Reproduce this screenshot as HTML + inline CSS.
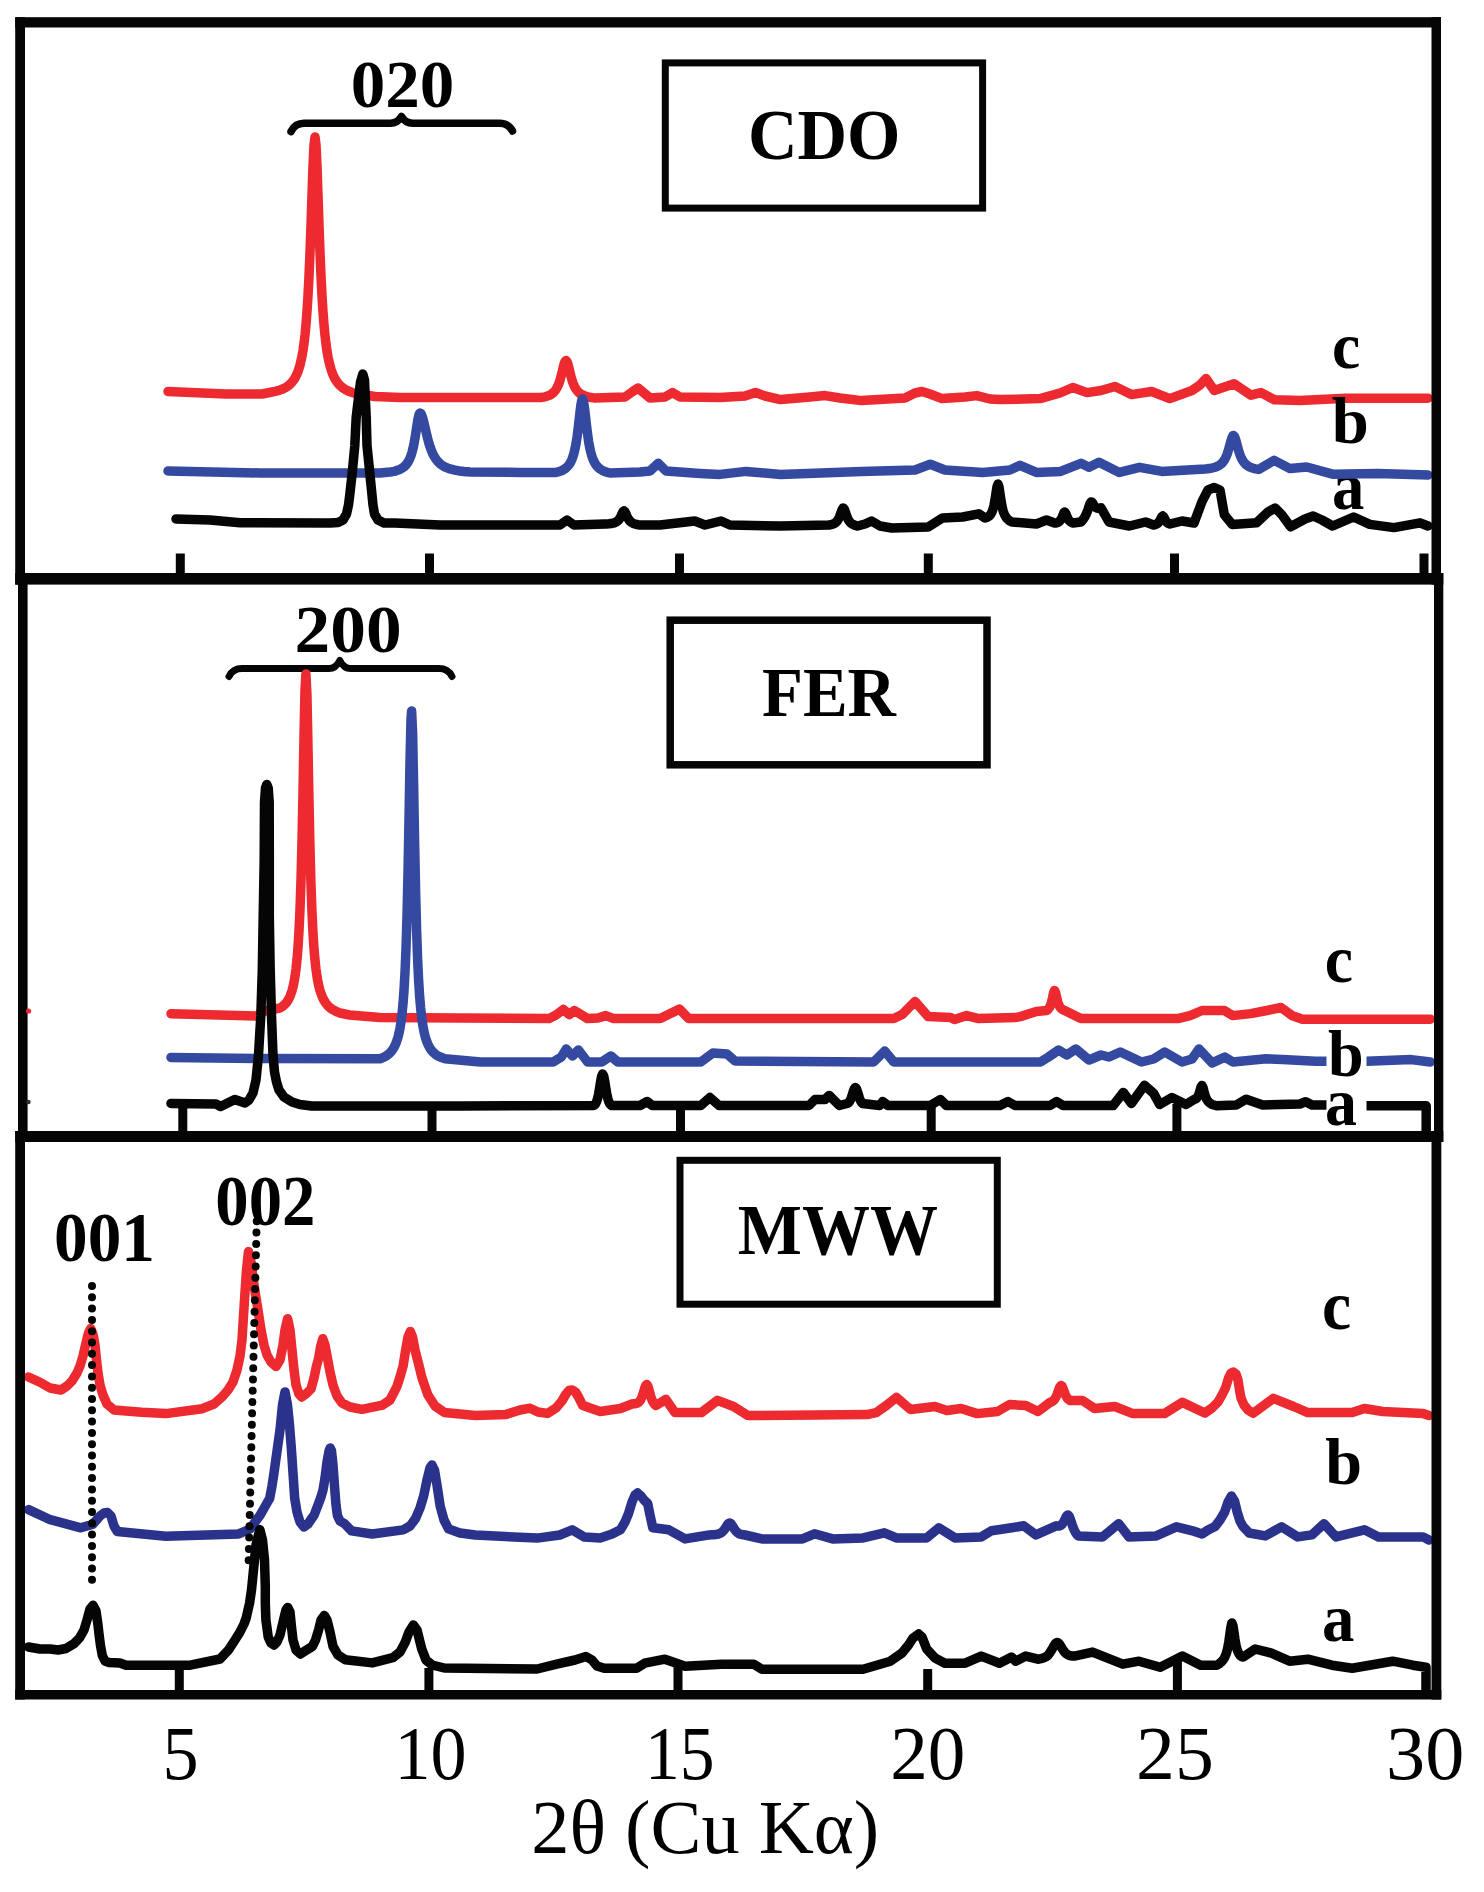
<!DOCTYPE html>
<html><head><meta charset="utf-8"><style>
html,body{margin:0;padding:0;background:#fff;}
svg{display:block;}
text{font-family:"Liberation Serif",serif;}
</style></head><body>
<svg width="1484" height="1892" viewBox="0 0 1484 1892"><rect width="1484" height="1892" fill="#fff"/><text transform="translate(1332.07,368.34) scale(0.9605,1)" font-size="66.25" font-weight="bold">c</text><text transform="translate(1332.10,508.63) scale(0.9622,1)" font-size="67.29" font-weight="bold">a</text><path d="M291.0,131.5 Q295.0,123.2 304.0,123.2 L390.5,123.2 Q397.5,123.2 401.5,116.5 Q405.5,123.2 412.5,123.2 L499.5,123.2 Q508.5,123.2 512.5,131.0" fill="none" stroke="#050505" stroke-width="7.5" stroke-linecap="round" stroke-linejoin="round"/><path d="M229.0,676.5 Q233.0,668.6 242.0,668.6 L328.8,668.6 Q335.8,668.6 339.8,660.5 Q343.8,668.6 350.8,668.6 L439.0,668.6 Q448.0,668.6 452.0,676.5" fill="none" stroke="#050505" stroke-width="7" stroke-linecap="round" stroke-linejoin="round"/><polyline points="168.0,391.5 226.0,394.0 262.0,394.0 272.0,392.0 272.0,392.0 274.0,391.6 276.0,391.2 278.0,390.7 280.0,390.0 282.0,389.3 284.0,388.4 286.0,387.3 288.0,386.0 290.0,384.3 292.0,382.2 294.0,379.6 296.0,376.1 298.0,371.5 300.0,365.1 302.0,356.3 303.0,350.5 304.0,343.5 305.0,335.0 306.0,324.5 307.0,311.5 308.0,295.6 309.0,276.0 310.0,252.4 311.0,224.9 312.0,195.0 313.0,166.4 314.0,145.0 315.0,137.0 316.0,145.1 317.0,166.5 318.0,195.1 319.0,225.0 320.0,252.6 321.0,276.3 322.0,295.9 323.0,311.9 324.0,324.9 325.0,335.4 326.0,344.0 327.0,351.1 328.0,356.9 329.0,361.8 331.0,369.3 333.0,374.8 335.0,378.9 337.0,382.0 339.0,384.5 341.0,386.4 343.0,388.0 345.0,389.3 347.0,390.4 349.0,391.3 351.0,392.0 353.0,392.7 355.0,393.3 357.0,393.8 358.0,394.0 375.0,396.5 400.0,397.5 460.0,397.5 541.0,397.6 541.0,397.6 543.0,397.2 545.0,396.8 547.0,396.2 549.0,395.4 551.0,394.4 553.0,392.9 554.0,392.0 555.0,390.8 556.0,389.4 557.0,387.7 558.0,385.7 559.0,383.2 560.0,380.2 561.0,376.6 562.0,372.6 563.0,368.4 564.0,364.4 565.0,361.6 566.0,360.5 567.0,361.6 568.0,364.4 569.0,368.3 570.0,372.5 571.0,376.5 572.0,380.0 573.0,383.0 574.0,385.4 575.0,387.5 576.0,389.2 577.0,390.5 578.0,391.7 579.0,392.6 580.0,393.5 582.0,394.7 584.0,395.6 586.0,396.3 588.0,396.9 590.0,397.3 592.0,397.6 594.0,397.9 595.0,398.0 625.0,397.0 632.0,392.0 638.0,388.0 644.0,393.0 650.0,398.0 665.0,397.0 672.5,392.6 680.0,397.0 720.0,397.6 745.0,396.0 755.4,392.6 765.0,396.0 780.6,399.6 810.0,397.0 825.0,395.6 840.0,398.0 861.5,400.6 905.0,398.0 915.0,393.0 922.0,391.5 930.0,394.0 942.0,398.6 965.0,397.0 976.7,395.6 990.0,399.0 1000.0,399.6 1040.0,398.6 1060.0,393.0 1072.8,387.5 1087.0,392.6 1101.0,390.5 1115.0,386.5 1131.4,394.6 1151.6,391.5 1169.8,398.6 1192.0,390.5 1200.0,385.0 1206.0,378.5 1214.3,390.5 1234.0,383.7 1251.0,395.2 1261.0,392.6 1274.4,399.8 1300.0,400.4 1345.6,398.2 1428.0,398.2" fill="none" stroke="#EC2A30" stroke-width="9.5" stroke-linejoin="round" stroke-linecap="round"/><polyline points="168.0,471.0 260.0,473.0 380.0,473.0 390.0,472.0 390.0,472.0 392.0,471.7 394.0,471.3 396.0,470.8 398.0,470.1 400.0,469.3 402.0,468.2 404.0,466.8 406.0,464.8 408.0,462.1 409.0,460.3 410.0,458.1 411.0,455.5 412.0,452.3 413.0,448.4 414.0,443.7 415.0,438.1 416.0,431.9 417.0,425.3 418.0,419.1 419.0,414.7 420.0,413.0 421.0,413.7 422.0,415.9 423.0,419.1 424.0,423.0 425.0,427.4 426.0,431.7 427.0,436.0 428.0,439.9 429.0,443.5 430.0,446.7 431.0,449.5 432.0,452.0 433.0,454.2 434.0,456.1 436.0,459.3 438.0,461.7 440.0,463.7 442.0,465.2 444.0,466.4 446.0,467.4 448.0,468.2 450.0,468.9 452.0,469.4 454.0,469.9 456.0,470.3 458.0,470.7 460.0,471.0 462.0,471.2 464.0,471.5 466.0,471.7 468.0,471.8 470.0,472.0 520.0,472.4 556.0,472.4 556.0,472.4 558.0,471.9 560.0,471.3 562.0,470.5 564.0,469.4 566.0,468.0 568.0,466.0 570.0,463.3 571.0,461.4 572.0,459.2 573.0,456.5 574.0,453.1 575.0,448.9 576.0,443.7 577.0,437.4 578.0,429.8 579.0,421.1 580.0,412.1 581.0,404.3 582.0,399.6 582.5,399.0 583.5,401.5 584.5,408.0 585.5,416.6 586.5,425.6 587.5,433.7 588.5,440.7 589.5,446.5 590.5,451.1 591.5,454.9 592.5,458.0 593.5,460.4 594.5,462.5 595.5,464.2 596.5,465.6 598.5,467.7 600.5,469.3 602.5,470.5 604.5,471.4 606.5,472.1 608.5,472.6 610.0,473.0 640.0,472.0 650.0,471.0 658.3,463.3 666.0,471.0 700.0,473.4 720.0,474.4 746.0,471.4 780.6,474.4 861.5,471.4 915.0,470.0 930.2,464.3 945.0,470.0 982.8,472.4 1010.0,470.0 1020.0,465.3 1036.4,472.4 1060.6,471.4 1080.9,463.3 1089.0,467.3 1099.0,462.3 1119.3,472.4 1139.5,467.3 1161.7,471.4 1205.0,469.0 1205.0,469.0 1207.0,468.8 1209.0,468.5 1211.0,468.2 1213.0,467.8 1215.0,467.2 1217.0,466.5 1219.0,465.5 1221.0,464.0 1222.0,463.1 1223.0,462.0 1224.0,460.6 1225.0,458.9 1226.0,456.9 1227.0,454.5 1228.0,451.5 1229.0,448.1 1230.0,444.4 1231.0,440.7 1232.0,437.6 1233.0,435.7 1233.5,435.5 1234.5,436.5 1235.5,439.1 1236.5,442.6 1237.5,446.5 1238.5,450.1 1239.5,453.4 1240.5,456.1 1241.5,458.4 1242.5,460.2 1243.5,461.8 1244.5,463.0 1245.5,464.1 1246.5,465.0 1247.5,465.7 1249.5,466.9 1251.5,467.7 1253.5,468.3 1255.5,468.8 1257.5,469.2 1258.7,469.4 1274.2,460.4 1290.0,468.6 1306.7,467.0 1332.6,474.2 1377.9,473.4 1428.0,475.0" fill="none" stroke="#344AA0" stroke-width="9.5" stroke-linejoin="round" stroke-linecap="round"/><polyline points="176.0,519.0 210.0,520.0 240.0,522.7 330.0,523.0 338.0,522.5 343.0,520.0 346.5,514.0 348.5,505.0 350.0,493.0 352.5,470.0 354.8,445.6 356.2,417.0 358.5,398.0 360.5,382.0 362.8,374.0 364.5,380.0 365.3,398.0 366.2,417.0 367.0,445.6 369.5,470.0 371.8,493.0 373.0,505.0 374.5,514.0 378.0,520.0 384.0,523.0 395.0,523.0 440.0,525.0 560.0,525.0 567.0,520.0 574.0,525.0 605.0,524.0 605.0,524.0 607.0,523.9 609.0,523.8 611.0,523.5 612.0,523.4 613.0,523.2 614.0,522.9 615.0,522.6 616.0,522.1 617.0,521.5 618.0,520.6 619.0,519.5 620.0,518.0 621.0,516.0 622.0,513.8 623.0,511.8 624.0,511.0 625.0,511.9 626.0,513.9 627.0,516.3 628.0,518.3 629.0,519.9 630.0,521.1 631.0,522.0 632.0,522.7 633.0,523.3 634.0,523.7 635.0,524.0 636.0,524.3 637.0,524.5 638.0,524.7 640.0,525.0 660.0,525.0 694.7,521.0 705.0,525.0 721.0,521.0 730.0,525.0 780.6,526.0 829.0,525.0 829.0,525.0 831.0,524.6 832.0,524.4 833.0,524.0 834.0,523.6 835.0,523.0 836.0,522.3 837.0,521.2 838.0,519.8 839.0,518.0 840.0,515.5 841.0,512.6 842.0,509.8 843.0,508.1 843.3,508.0 844.3,509.1 845.3,511.8 846.3,514.9 847.3,517.6 848.3,519.7 849.3,521.3 850.3,522.5 851.3,523.4 852.3,524.1 853.3,524.6 854.3,525.1 855.3,525.4 856.3,525.7 857.3,526.0 857.5,526.0 865.0,524.0 871.6,521.0 880.0,526.0 891.8,528.0 928.2,527.0 942.4,518.0 962.6,517.0 978.7,513.8 985.0,518.0 985.0,518.0 986.0,517.7 987.0,517.4 988.0,516.8 989.0,516.1 990.0,515.2 991.0,513.8 992.0,511.9 993.0,509.1 994.0,505.2 995.0,499.9 996.0,493.2 997.0,486.8 998.0,484.0 999.0,487.0 1000.0,493.7 1001.0,500.6 1002.0,506.2 1003.0,510.4 1004.0,513.4 1005.0,515.6 1006.0,517.2 1007.0,518.5 1008.0,519.5 1009.0,520.3 1010.0,521.0 1011.0,521.5 1012.0,522.0 1036.4,524.0 1046.5,520.0 1054.6,523.0 1056.0,523.0 1057.0,522.7 1058.0,522.3 1059.0,521.6 1060.0,520.7 1061.0,519.4 1062.0,517.5 1063.0,515.0 1064.0,512.6 1064.7,512.0 1065.7,513.2 1066.7,515.8 1067.7,518.2 1068.7,520.0 1069.7,521.1 1070.7,521.9 1071.7,522.5 1072.7,522.9 1073.0,523.0 1080.9,522.0 1080.9,522.0 1081.9,520.9 1082.9,519.7 1083.9,518.3 1084.9,516.7 1085.9,514.8 1086.9,512.5 1087.9,509.8 1088.9,506.7 1089.9,503.8 1090.9,502.1 1091.0,502.0 1092.0,502.2 1093.0,503.6 1094.0,505.3 1095.0,506.6 1096.0,507.6 1097.0,508.1 1098.0,508.3 1099.0,508.3 1100.0,508.1 1101.0,507.8 1109.0,522.0 1129.4,526.0 1145.5,522.0 1153.6,525.0 1154.0,525.0 1155.0,524.7 1156.0,524.3 1157.0,523.8 1158.0,523.0 1159.0,521.9 1160.0,520.4 1161.0,518.4 1162.0,516.5 1162.7,516.0 1163.7,516.9 1164.7,518.9 1165.7,520.8 1166.7,522.1 1167.7,523.0 1168.7,523.5 1169.7,523.9 1170.0,524.0 1182.0,521.0 1194.0,523.0 1202.0,501.7 1208.0,490.0 1214.3,487.5 1220.0,490.0 1224.3,514.7 1232.3,524.4 1256.6,522.8 1268.0,512.0 1275.2,508.0 1282.0,515.0 1290.6,526.8 1305.0,519.0 1313.2,516.0 1322.0,520.0 1332.6,526.0 1353.6,517.0 1369.8,524.4 1394.0,527.6 1420.0,522.8 1428.0,526.0" fill="none" stroke="#050505" stroke-width="9.5" stroke-linejoin="round" stroke-linecap="round"/><polyline points="171.0,1013.8 257.0,1016.0 262.0,1012.0 269.4,1010.0 280.0,1008.0 280.0,1008.0 282.0,1006.8 284.0,1005.2 286.0,1003.2 288.0,1000.3 290.0,996.4 292.0,990.7 293.0,986.9 294.0,982.2 295.0,976.4 296.0,969.1 297.0,959.6 298.0,947.3 299.0,931.0 300.0,909.3 301.0,880.1 302.0,841.4 303.0,792.3 304.0,737.2 305.0,690.5 305.9,674.0 306.9,694.1 307.9,742.3 308.9,796.9 309.9,844.7 310.9,882.2 311.9,910.4 312.9,931.5 313.9,947.3 314.9,959.3 315.9,968.6 316.9,975.9 317.9,981.7 318.9,986.4 319.9,990.2 321.9,996.1 323.9,1000.2 325.9,1003.3 327.9,1005.7 329.9,1007.6 331.9,1009.1 333.9,1010.3 335.9,1011.3 337.9,1012.2 339.9,1013.0 340.0,1013.0 349.6,1015.0 380.0,1017.4 460.0,1018.0 549.0,1018.6 556.0,1015.0 563.3,1009.5 569.4,1014.6 574.4,1010.5 587.6,1018.6 598.0,1018.0 605.8,1015.6 613.8,1018.6 660.3,1018.6 668.4,1014.6 679.5,1009.0 688.6,1018.6 893.8,1018.6 902.0,1014.6 915.0,1001.5 928.2,1016.6 950.4,1017.6 954.5,1019.6 966.6,1015.6 978.7,1018.6 1015.0,1017.6 1020.2,1016.6 1036.4,1011.5 1046.5,1010.5 1046.5,1010.5 1047.5,1009.8 1048.5,1008.8 1049.5,1007.4 1050.5,1005.3 1051.5,1002.2 1052.5,998.0 1053.5,993.2 1054.5,990.5 1054.6,990.5 1055.6,992.7 1056.6,997.2 1057.6,1001.4 1058.6,1004.4 1059.6,1006.5 1060.6,1007.9 1061.6,1008.9 1062.6,1009.6 1063.6,1010.1 1064.6,1010.5 1064.7,1010.5 1076.8,1016.6 1080.9,1018.6 1177.9,1018.6 1190.0,1015.6 1202.0,1010.5 1224.4,1010.5 1232.5,1015.6 1250.7,1013.6 1266.8,1010.5 1281.0,1007.5 1292.5,1015.8 1302.4,1019.2 1430.3,1019.2" fill="none" stroke="#EC2A30" stroke-width="9.5" stroke-linejoin="round" stroke-linecap="round"/><polyline points="171.0,1057.5 260.0,1058.5 380.0,1058.7 380.0,1058.7 382.0,1058.0 384.0,1057.1 386.0,1056.0 388.0,1054.6 390.0,1052.9 392.0,1050.6 394.0,1047.5 396.0,1043.2 398.0,1037.2 399.0,1033.1 400.0,1028.1 401.0,1021.9 402.0,1014.0 403.0,1003.8 404.0,990.4 405.0,972.6 406.0,948.7 407.0,916.4 408.0,873.4 409.0,819.6 410.0,761.9 411.0,719.2 411.6,711.0 412.6,732.7 413.6,784.4 414.6,842.0 415.6,891.7 416.6,930.1 417.6,958.8 418.6,980.0 419.6,995.8 420.6,1007.7 421.6,1016.9 422.6,1024.1 423.6,1029.8 424.6,1034.3 425.6,1038.1 427.6,1043.7 429.6,1047.6 431.6,1050.5 433.6,1052.7 435.6,1054.4 437.6,1055.7 439.6,1056.7 441.6,1057.6 443.6,1058.3 445.0,1058.7 480.4,1062.0 553.2,1062.0 561.3,1057.0 566.3,1049.0 572.4,1056.0 578.5,1050.0 587.6,1062.0 601.7,1062.0 610.8,1056.0 617.9,1062.0 700.8,1062.0 712.9,1053.0 727.0,1054.0 735.0,1061.0 873.6,1062.0 884.7,1051.0 893.8,1062.0 1040.4,1062.0 1048.5,1057.0 1058.6,1050.0 1066.7,1055.0 1075.8,1049.0 1089.0,1060.0 1101.0,1055.0 1109.0,1057.0 1120.3,1052.0 1141.5,1062.0 1153.6,1059.0 1164.7,1052.0 1182.0,1062.0 1192.0,1059.0 1199.0,1049.0 1212.2,1062.9 1224.8,1057.1 1233.0,1062.0 1266.0,1058.8 1282.5,1059.6 1315.6,1061.3 1326.0,1061.3" fill="none" stroke="#344AA0" stroke-width="9.5" stroke-linejoin="round" stroke-linecap="round"/><polyline points="1366.7,1061.3 1411.3,1059.6 1430.3,1062.0" fill="none" stroke="#344AA0" stroke-width="9.5" stroke-linejoin="round" stroke-linecap="round"/><polyline points="171.0,1103.5 216.0,1104.0 220.6,1106.5 234.8,1099.4 245.0,1103.0 249.0,1100.0 253.0,1093.0 256.0,1080.0 258.5,1055.0 260.8,1016.0 262.3,970.0 263.2,916.0 264.2,860.0 264.5,802.0 265.5,788.0 266.8,784.5 268.2,788.0 269.2,802.0 269.3,860.0 269.3,916.0 270.2,970.0 271.5,1016.0 273.0,1055.0 274.5,1072.0 276.5,1082.0 279.0,1090.0 284.0,1097.0 292.0,1102.0 300.0,1104.5 311.6,1106.0 460.0,1106.0 593.6,1105.5 593.6,1105.5 594.6,1104.9 595.6,1103.7 596.6,1101.7 597.6,1098.5 598.6,1093.9 599.6,1088.0 600.6,1081.7 601.6,1076.4 602.6,1074.0 602.7,1074.0 603.7,1076.0 604.7,1081.1 605.7,1087.4 606.7,1093.4 607.7,1098.1 608.7,1101.5 609.7,1103.6 610.7,1104.8 611.7,1105.5 611.8,1105.5 640.0,1105.5 647.2,1101.5 652.2,1105.5 700.8,1105.5 709.9,1097.5 719.0,1105.5 809.0,1105.5 815.0,1099.5 825.0,1099.5 829.2,1095.4 839.3,1105.5 847.3,1103.5 847.3,1103.5 848.3,1102.9 849.3,1101.9 850.3,1100.2 851.3,1097.8 852.3,1094.8 853.3,1091.5 854.3,1088.8 855.3,1087.5 855.4,1087.5 856.4,1088.6 857.4,1091.3 858.4,1094.7 859.4,1097.9 860.4,1100.5 861.4,1102.3 862.4,1103.4 862.5,1103.5 879.7,1105.5 882.7,1101.5 887.8,1105.5 930.2,1105.5 940.3,1099.5 946.4,1105.5 1000.0,1105.5 1008.0,1101.5 1015.0,1105.5 1050.0,1105.5 1056.6,1101.5 1063.0,1105.5 1113.2,1105.5 1123.3,1092.4 1131.4,1103.5 1144.5,1085.3 1153.6,1093.4 1159.7,1104.5 1171.8,1097.5 1186.0,1104.5 1194.0,1099.5 1194.0,1099.5 1195.0,1099.2 1196.0,1098.6 1197.0,1097.7 1198.0,1096.2 1199.0,1093.9 1200.0,1090.6 1201.0,1087.1 1202.0,1085.5 1203.0,1087.5 1204.0,1091.5 1205.0,1095.1 1206.0,1097.9 1207.0,1099.8 1208.0,1101.2 1209.0,1102.3 1210.0,1103.1 1211.0,1103.8 1212.0,1104.4 1212.2,1104.5 1216.5,1105.8 1236.3,1105.0 1246.2,1099.2 1262.7,1105.0 1300.0,1104.0 1305.7,1101.7 1312.0,1105.0 1326.0,1105.0" fill="none" stroke="#050505" stroke-width="9.5" stroke-linejoin="round" stroke-linecap="round"/><polyline points="1366.7,1105.8 1426.2,1105.8 1426.2,1131.0" fill="none" stroke="#050505" stroke-width="9.5" stroke-linejoin="round" stroke-linecap="round"/><polyline points="28.5,1377.0 39.5,1382.0 50.0,1388.0 61.0,1390.0 67.0,1386.0 72.0,1381.0 77.0,1373.0 80.0,1366.0 83.0,1356.0 86.0,1343.0 88.5,1333.0 90.7,1328.5 93.0,1334.0 95.0,1345.0 96.5,1360.0 98.0,1373.0 100.0,1385.0 103.0,1395.0 107.0,1404.0 114.0,1410.0 141.6,1412.3 165.9,1413.6 202.3,1408.7 214.0,1404.0 222.0,1397.0 228.0,1390.0 233.0,1382.0 237.0,1370.0 240.0,1356.0 242.0,1340.0 244.5,1300.0 246.5,1270.0 248.5,1251.6 251.0,1262.0 254.0,1285.0 258.0,1310.0 261.0,1330.0 264.0,1345.0 267.0,1355.0 271.0,1362.0 276.0,1366.5 280.0,1360.0 283.0,1345.0 285.0,1330.0 287.6,1318.7 290.0,1330.0 292.0,1350.0 294.0,1370.0 296.0,1385.0 299.0,1394.0 301.8,1397.0 306.0,1394.0 311.0,1389.0 314.0,1378.0 316.5,1366.0 318.7,1358.0 320.5,1347.0 322.8,1338.7 325.0,1345.0 327.8,1360.0 330.0,1372.0 333.0,1385.0 337.0,1396.0 342.0,1403.0 350.0,1407.0 361.9,1409.3 382.5,1405.2 390.0,1400.0 396.9,1386.6 400.0,1377.0 403.1,1366.0 406.0,1348.0 408.0,1337.0 410.3,1331.5 412.5,1337.0 415.0,1350.0 418.6,1364.0 422.0,1378.0 427.8,1394.8 435.0,1406.0 444.3,1412.4 475.3,1415.5 506.2,1414.4 520.0,1410.0 529.9,1408.2 538.0,1412.0 547.4,1413.4 556.0,1408.0 561.9,1401.0 566.0,1394.0 569.0,1390.5 572.2,1390.0 575.5,1392.0 579.0,1398.0 582.5,1405.2 590.0,1408.0 600.2,1411.5 620.4,1408.5 632.0,1404.0 632.0,1404.0 634.0,1403.8 635.0,1403.7 636.0,1403.5 637.0,1403.2 638.0,1402.7 639.0,1402.0 640.0,1400.8 641.0,1399.1 642.0,1396.9 643.0,1394.0 644.0,1390.6 645.0,1387.4 646.0,1385.0 646.7,1384.5 647.7,1385.8 648.7,1388.8 649.7,1392.5 650.7,1396.1 651.7,1399.2 652.7,1401.5 653.7,1403.3 654.7,1404.5 655.7,1405.3 656.0,1405.5 665.9,1399.4 675.0,1412.6 701.3,1412.6 717.5,1400.4 733.6,1406.5 747.8,1415.6 867.0,1414.6 876.2,1412.6 886.3,1405.5 896.4,1397.4 910.5,1409.5 934.8,1406.5 946.9,1410.5 961.0,1408.5 977.2,1413.6 997.5,1411.5 1009.6,1404.5 1025.8,1405.5 1037.9,1411.5 1050.0,1402.4 1050.0,1402.4 1051.0,1402.0 1052.0,1401.6 1053.0,1400.9 1054.0,1400.0 1055.0,1398.7 1056.0,1396.9 1057.0,1394.7 1058.0,1392.0 1059.0,1389.1 1060.0,1386.7 1061.0,1385.5 1061.1,1385.5 1062.1,1386.3 1063.1,1388.6 1064.1,1391.3 1065.1,1394.0 1066.1,1396.2 1067.1,1397.9 1068.1,1399.1 1069.1,1399.9 1070.1,1400.4 1070.2,1400.4 1082.4,1400.4 1094.5,1408.5 1114.7,1406.5 1132.9,1413.6 1164.3,1413.6 1182.4,1402.4 1204.8,1413.0 1212.0,1408.0 1218.0,1402.0 1222.0,1395.0 1225.5,1388.0 1228.5,1378.0 1231.0,1373.0 1233.3,1372.0 1236.0,1374.0 1238.0,1380.0 1239.5,1390.0 1241.0,1398.0 1244.0,1405.0 1248.0,1410.0 1253.2,1413.3 1273.4,1398.4 1293.6,1406.5 1307.8,1412.6 1352.2,1412.6 1364.4,1408.5 1382.6,1411.5 1423.0,1413.6 1429.0,1415.6" fill="none" stroke="#EC2A30" stroke-width="9.5" stroke-linejoin="round" stroke-linecap="round"/><polyline points="28.5,1509.6 49.2,1519.3 80.8,1527.8 92.9,1524.2 100.0,1516.0 104.0,1513.0 107.5,1512.5 111.0,1516.0 114.0,1526.0 117.3,1531.5 165.9,1536.3 238.8,1533.9 250.0,1529.0 255.0,1522.0 260.0,1515.4 264.2,1508.0 267.0,1503.0 269.7,1498.4 272.0,1486.0 274.0,1473.0 277.5,1447.7 280.0,1430.0 282.5,1405.0 285.0,1392.0 287.5,1405.0 289.5,1425.0 291.3,1447.7 293.0,1473.0 294.7,1498.4 297.0,1512.0 300.0,1522.0 304.0,1527.0 308.0,1524.0 312.0,1518.0 314.0,1515.4 318.0,1505.0 321.0,1497.0 323.0,1490.0 325.0,1478.0 327.0,1462.0 329.0,1451.0 330.2,1448.0 331.5,1451.0 333.0,1465.0 334.8,1490.0 336.0,1505.0 337.4,1515.4 340.0,1521.0 344.6,1523.8 351.5,1530.9 372.2,1534.0 403.1,1529.9 410.0,1526.0 415.5,1518.6 420.0,1508.0 423.7,1495.9 427.0,1480.0 430.0,1468.0 432.0,1465.0 434.5,1470.0 437.0,1485.0 440.2,1506.2 444.0,1520.0 448.5,1528.9 460.0,1533.0 475.3,1535.0 537.1,1538.1 559.8,1535.0 572.2,1529.9 584.5,1537.1 600.2,1537.9 612.0,1534.0 620.4,1529.8 625.0,1522.0 628.5,1513.6 632.0,1502.0 635.0,1495.0 637.6,1493.0 641.0,1496.0 644.0,1500.0 647.7,1503.5 650.0,1515.0 652.8,1527.8 668.9,1529.8 685.1,1538.9 709.4,1534.9 709.4,1534.9 711.4,1534.8 713.4,1534.7 715.4,1534.5 717.4,1534.2 718.4,1534.0 719.4,1533.6 720.4,1533.2 721.4,1532.6 722.4,1531.8 723.4,1530.7 724.4,1529.5 725.4,1528.0 726.4,1526.4 727.4,1524.8 728.4,1523.6 729.4,1523.0 729.6,1523.0 730.6,1523.4 731.6,1524.6 732.6,1526.1 733.6,1527.8 734.6,1529.4 735.6,1530.7 736.6,1531.8 737.6,1532.7 738.6,1533.4 739.6,1533.9 740.6,1534.2 741.6,1534.5 742.6,1534.7 743.6,1534.8 745.0,1535.0 761.9,1538.9 802.4,1538.9 814.5,1533.8 832.7,1538.9 863.0,1537.9 884.3,1532.8 896.4,1537.9 926.7,1537.9 938.8,1527.8 955.0,1537.9 981.3,1536.9 991.4,1530.8 1011.6,1527.8 1023.7,1525.8 1035.9,1534.9 1056.1,1525.8 1056.1,1525.8 1057.1,1526.0 1058.1,1526.1 1059.1,1526.0 1060.1,1525.7 1061.1,1525.1 1062.1,1524.2 1063.1,1522.8 1064.1,1521.0 1065.1,1519.0 1066.1,1516.9 1067.1,1515.4 1068.1,1515.0 1068.2,1515.0 1069.2,1516.2 1070.2,1518.7 1071.2,1521.7 1072.2,1524.8 1073.2,1527.6 1074.2,1530.0 1075.2,1531.9 1076.2,1533.5 1077.2,1534.8 1078.2,1535.8 1078.3,1535.9 1102.6,1536.9 1118.7,1523.7 1128.9,1536.9 1156.2,1535.9 1176.4,1526.8 1192.6,1530.8 1202.0,1534.0 1208.0,1530.0 1215.0,1526.5 1220.0,1520.0 1224.7,1512.0 1228.0,1502.0 1231.4,1496.0 1234.5,1501.0 1237.2,1512.0 1240.0,1521.0 1243.0,1526.5 1249.2,1533.0 1265.3,1535.9 1281.5,1526.8 1297.7,1536.9 1311.8,1534.9 1324.0,1523.7 1336.0,1536.9 1352.2,1532.8 1364.4,1529.8 1378.5,1536.9 1423.0,1536.9 1429.0,1540.0" fill="none" stroke="#2A328C" stroke-width="9.5" stroke-linejoin="round" stroke-linecap="round"/><polyline points="28.5,1647.0 40.0,1649.0 50.0,1649.0 58.0,1650.0 66.0,1648.5 74.0,1643.6 79.5,1638.0 84.0,1630.0 87.0,1620.0 90.0,1609.0 93.1,1605.3 96.0,1611.0 98.0,1625.0 99.0,1634.0 100.4,1645.0 102.3,1655.5 105.0,1661.0 109.0,1662.5 120.0,1663.0 126.0,1665.2 141.6,1665.2 190.2,1665.2 220.0,1659.0 228.5,1650.0 235.0,1640.0 240.0,1632.0 244.0,1624.0 246.2,1618.0 248.0,1610.0 249.6,1603.0 251.5,1590.0 253.5,1570.0 256.0,1545.0 259.8,1529.5 262.5,1540.0 264.5,1560.0 265.3,1586.0 265.3,1603.0 265.9,1620.0 268.2,1636.9 271.0,1643.0 274.1,1645.0 277.0,1642.0 280.0,1635.0 283.5,1620.0 286.0,1610.0 287.7,1607.5 290.0,1612.0 291.6,1628.0 293.0,1640.0 296.0,1650.0 300.4,1654.0 305.0,1651.0 312.4,1646.4 315.5,1640.0 318.6,1629.9 321.0,1620.0 324.3,1615.5 327.0,1620.0 330.0,1632.0 333.0,1646.4 338.0,1655.0 345.4,1659.8 372.2,1662.9 392.8,1657.7 400.0,1652.0 405.2,1642.3 409.0,1632.0 413.4,1625.0 417.0,1630.0 421.6,1648.5 426.0,1660.0 432.0,1665.0 444.3,1668.0 537.1,1669.0 557.7,1663.9 575.0,1660.0 586.0,1656.5 592.0,1660.0 597.0,1666.0 604.3,1668.3 636.6,1668.3 644.7,1663.2 664.9,1659.2 685.1,1666.2 721.5,1664.2 753.8,1664.2 761.9,1669.3 863.0,1669.3 890.3,1661.2 902.0,1653.0 908.5,1645.0 913.0,1638.0 918.6,1634.0 922.0,1637.0 926.7,1649.0 935.0,1658.0 944.9,1663.2 965.1,1663.2 981.3,1656.1 999.5,1663.2 1011.6,1657.1 1015.6,1661.2 1025.8,1656.1 1037.9,1659.2 1037.9,1659.2 1039.9,1658.9 1041.9,1658.4 1043.9,1657.8 1044.9,1657.3 1045.9,1656.8 1046.9,1656.1 1047.9,1655.2 1048.9,1654.1 1049.9,1652.7 1050.9,1651.2 1051.9,1649.5 1052.9,1647.7 1053.9,1645.9 1054.9,1644.3 1055.9,1643.1 1056.9,1642.5 1057.1,1642.5 1058.1,1642.8 1059.1,1643.7 1060.1,1645.1 1061.1,1646.7 1062.1,1648.4 1063.1,1650.0 1064.1,1651.4 1065.1,1652.6 1066.1,1653.6 1067.1,1654.3 1068.1,1654.9 1069.1,1655.3 1070.1,1655.6 1071.1,1655.8 1073.1,1656.1 1074.3,1656.1 1092.5,1652.1 1112.7,1660.2 1122.8,1664.2 1139.0,1661.2 1160.2,1667.3 1182.4,1656.1 1200.6,1665.2 1216.8,1665.2 1216.8,1665.2 1218.8,1664.0 1219.8,1663.3 1220.8,1662.4 1221.8,1661.5 1222.8,1660.3 1223.8,1658.9 1224.8,1657.2 1225.8,1654.9 1226.8,1651.8 1227.8,1647.6 1228.8,1642.0 1229.8,1634.9 1230.8,1627.5 1231.8,1623.2 1232.0,1623.0 1233.0,1625.8 1234.0,1632.5 1235.0,1639.5 1236.0,1645.1 1237.0,1649.1 1238.0,1651.9 1239.0,1653.8 1240.0,1655.2 1241.0,1656.1 1242.0,1656.7 1243.0,1657.1 1243.1,1657.1 1255.2,1649.0 1271.4,1653.1 1289.6,1661.2 1307.8,1659.2 1332.0,1665.2 1352.2,1668.3 1392.7,1661.2 1412.9,1665.2 1426.0,1667.3 1426.0,1690.0" fill="none" stroke="#050505" stroke-width="9.5" stroke-linejoin="round" stroke-linecap="round"/><rect x="15.2" y="17.2" width="1425.8" height="10.3" fill="#050505"/><rect x="15.2" y="17.2" width="9.8" height="567.4" fill="#050505"/><rect x="1431.5" y="17.2" width="9.5" height="567.4" fill="#050505"/><rect x="15.2" y="573.0" width="1428.1" height="11.6" fill="#050505"/><rect x="18.0" y="573.0" width="9.6" height="569.0" fill="#050505"/><rect x="1434.0" y="573.0" width="9.3" height="569.0" fill="#050505"/><rect x="15.2" y="1131.0" width="1428.1" height="11.0" fill="#050505"/><rect x="15.2" y="1131.0" width="9.8" height="568.5" fill="#050505"/><rect x="1431.5" y="1131.0" width="9.8" height="568.5" fill="#050505"/><rect x="15.2" y="1690.0" width="1426.1" height="9.5" fill="#050505"/><rect x="175.8" y="553.5" width="9.0" height="20.5" fill="#050505"/><rect x="425.0" y="553.5" width="9.0" height="20.5" fill="#050505"/><rect x="675.0" y="553.5" width="9.0" height="20.5" fill="#050505"/><rect x="923.8" y="553.5" width="9.0" height="20.5" fill="#050505"/><rect x="1170.0" y="553.5" width="9.0" height="20.5" fill="#050505"/><rect x="1419.5" y="553.5" width="9.0" height="20.5" fill="#050505"/><rect x="178.3" y="1104.0" width="9.0" height="28.0" fill="#050505"/><rect x="427.5" y="1104.0" width="9.0" height="28.0" fill="#050505"/><rect x="676.0" y="1104.0" width="9.0" height="28.0" fill="#050505"/><rect x="926.7" y="1104.0" width="9.0" height="28.0" fill="#050505"/><rect x="1172.4" y="1104.0" width="9.0" height="28.0" fill="#050505"/><rect x="174.8" y="1668.0" width="9.0" height="23.0" fill="#050505"/><rect x="424.4" y="1668.0" width="9.0" height="23.0" fill="#050505"/><rect x="673.5" y="1667.0" width="9.0" height="24.0" fill="#050505"/><rect x="923.2" y="1669.0" width="9.0" height="22.0" fill="#050505"/><rect x="1172.9" y="1660.0" width="9.0" height="31.0" fill="#050505"/><circle cx="28.6" cy="1011" r="2.6" fill="#EC2A30"/><circle cx="28.4" cy="1102" r="2.3" fill="#333"/><rect x="665.3" y="62.9" width="317.3" height="145.2" fill="none" stroke="#050505" stroke-width="7"/><rect x="670.2" y="620.2" width="316.8" height="144.6" fill="none" stroke="#050505" stroke-width="7.5"/><rect x="680.0" y="1160.3" width="317.3" height="143.9" fill="none" stroke="#050505" stroke-width="7"/><rect x="1326.5" y="1040.0" width="40.0" height="40.0" fill="#fff"/><rect x="1326.5" y="1090.0" width="40.0" height="30.0" fill="#fff"/><line x1="92" y1="1286" x2="92" y2="1584" stroke="#050505" stroke-width="8" stroke-linecap="round" stroke-dasharray="0 11.3"/><line x1="257" y1="1210" x2="248.5" y2="1566" stroke="#050505" stroke-width="8" stroke-linecap="round" stroke-dasharray="0 11.3"/><text transform="translate(162.54,1778.63) scale(0.9446,1)" font-size="76.54" font-weight="normal">5</text><text transform="translate(394.49,1778.65) scale(0.9563,1)" font-size="75.41" font-weight="normal">10</text><text transform="translate(644.91,1778.64) scale(0.9158,1)" font-size="75.97" font-weight="normal">15</text><text transform="translate(890.32,1778.65) scale(0.9959,1)" font-size="75.41" font-weight="normal">20</text><text transform="translate(1136.10,1779.24) scale(1.0181,1)" font-size="76.43" font-weight="normal">25</text><text transform="translate(1386.08,1779.24) scale(1.0276,1)" font-size="76.15" font-weight="normal">30</text><text transform="translate(531.26,1852.50) scale(0.9918,1)" font-size="76.98" font-weight="normal">2θ (Cu Kα)</text><text transform="translate(747.97,158.99) scale(0.9633,1)" font-size="71.23" font-weight="bold">CDO</text><text transform="translate(762.03,716.00) scale(0.9456,1)" font-size="70.84" font-weight="bold">FER</text><text transform="translate(737.81,1253.63) scale(0.9514,1)" font-size="71.49" font-weight="bold">MWW</text><text transform="translate(350.71,107.41) scale(1.0077,1)" font-size="68.59" font-weight="bold">020</text><text transform="translate(294.57,651.92) scale(1.0560,1)" font-size="67.56" font-weight="bold">200</text><text transform="translate(54.08,1261.10) scale(0.9615,1)" font-size="69.93" font-weight="bold">001</text><text transform="translate(215.30,1224.99) scale(0.9408,1)" font-size="70.96" font-weight="bold">002</text><text transform="translate(1324.87,982.13) scale(0.9486,1)" font-size="67.08" font-weight="bold">c</text><text transform="translate(1328.00,1076.35) scale(0.9929,1)" font-size="64.54" font-weight="bold">b</text><text transform="translate(1325.02,1124.93) scale(0.9521,1)" font-size="67.08" font-weight="bold">a</text><text transform="translate(1321.90,1329.40) scale(0.9444,1)" font-size="69.58" font-weight="bold">c</text><text transform="translate(1325.17,1483.65) scale(1.0268,1)" font-size="64.54" font-weight="bold">b</text><text transform="translate(1321.90,1641.33) scale(0.9593,1)" font-size="67.50" font-weight="bold">a</text><text transform="translate(1331.67,443.35) scale(1.0262,1)" font-size="64.96" font-weight="bold">b</text></svg>
</body></html>
